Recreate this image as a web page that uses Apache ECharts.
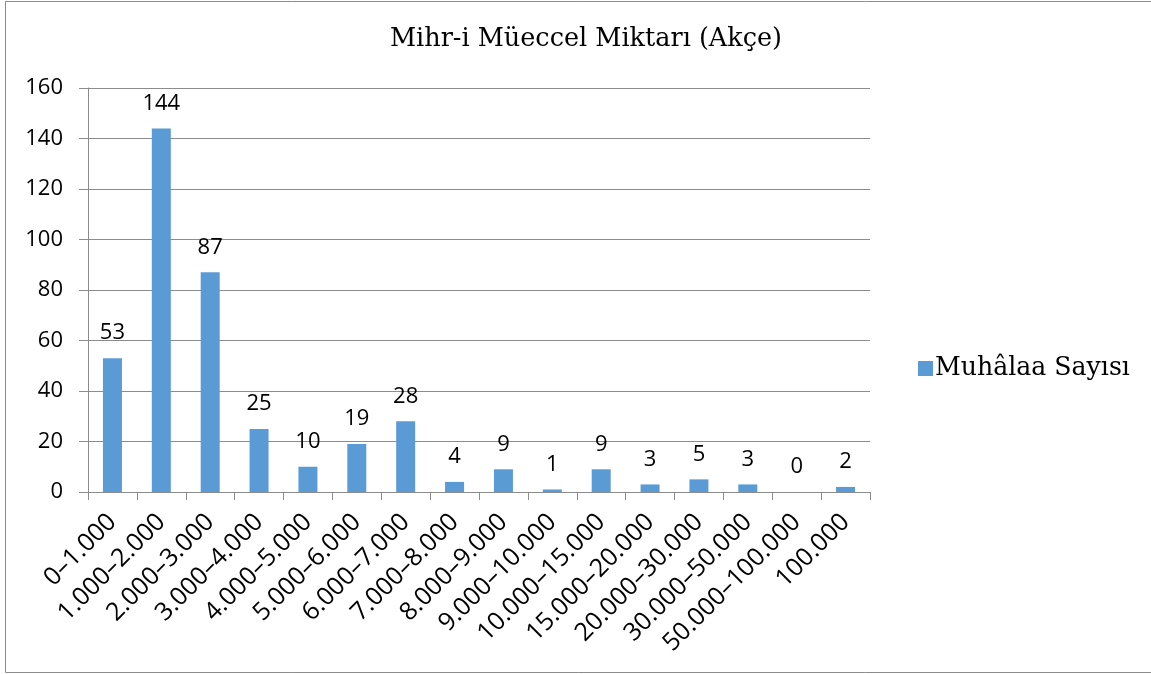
<!DOCTYPE html>
<html><head><meta charset="utf-8">
<script src="https://cdn.jsdelivr.net/npm/echarts@6/dist/echarts.min.js"></script>
<style>html,body{margin:0;padding:0;background:#fff}#c{width:1151px;height:674px}</style>
</head><body><div id="c"></div>
<script>
const categories = ["0–1.000","1.000–2.000","2.000–3.000","3.000–4.000","4.000–5.000","5.000–6.000","6.000–7.000","7.000–8.000","8.000–9.000","9.000–10.000","10.000–15.000","15.000–20.000","20.000–30.000","30.000–50.000","50.000–100.000","100.000"];
const muhalaaSayisi = [53,144,87,25,10,19,28,4,9,1,9,3,5,3,0,2];
const seriesName = "Muhâlaa Sayısı";
const titleText = "Mihr-i Müeccel Miktarı (Akçe)";

const chart = echarts.init(document.getElementById('c'));
chart.setOption({
  animation:false,
  backgroundColor:'#fff',
  graphic:[{type:'rect',shape:{x:5.5,y:1.5,width:1160,height:671},style:{fill:'none',stroke:'#8c8c8c',lineWidth:1}}],
  title:{text:titleText,left:581,textAlign:'center',top:21,textStyle:{fontFamily:'DejaVu Serif',fontWeight:'normal',fontSize:25.5,color:'#000'}},
  legend:{show:true,orient:'vertical',left:913,top:351,itemWidth:15,itemHeight:15,itemGap:0,icon:'rect',
    textStyle:{fontFamily:'DejaVu Serif',fontSize:25.2,color:'#000',padding:[0,0,0,-3]}},
  grid:{left:88,right:281,top:88,bottom:182,containLabel:false},
  xAxis:{type:'category',data:categories,
    axisLine:{lineStyle:{color:'#8c8c8c',width:1}},
    axisTick:{show:true,alignWithLabel:false,length:8,lineStyle:{color:'#8c8c8c'}},
    axisLabel:{rotate:45,interval:0,margin:26,fontFamily:'Open Sans',fontSize:25,color:'#000'}},
  yAxis:{type:'value',min:0,max:160,interval:20,
    axisLine:{show:true,lineStyle:{color:'#8c8c8c',width:1}},
    axisTick:{show:true,length:9,lineStyle:{color:'#8c8c8c'}},
    splitLine:{lineStyle:{color:'#8c8c8c',width:1}},
    axisLabel:{margin:25,fontFamily:'Open Sans',fontSize:22,color:'#000'}},
  series:[{name:seriesName,type:'bar',data:muhalaaSayisi,barWidth:19,
    itemStyle:{color:'#5B9BD5'},
    label:{show:true,position:'top',distance:14,fontFamily:'Open Sans',fontSize:22,color:'#000'}}]
});
</script></body></html>
